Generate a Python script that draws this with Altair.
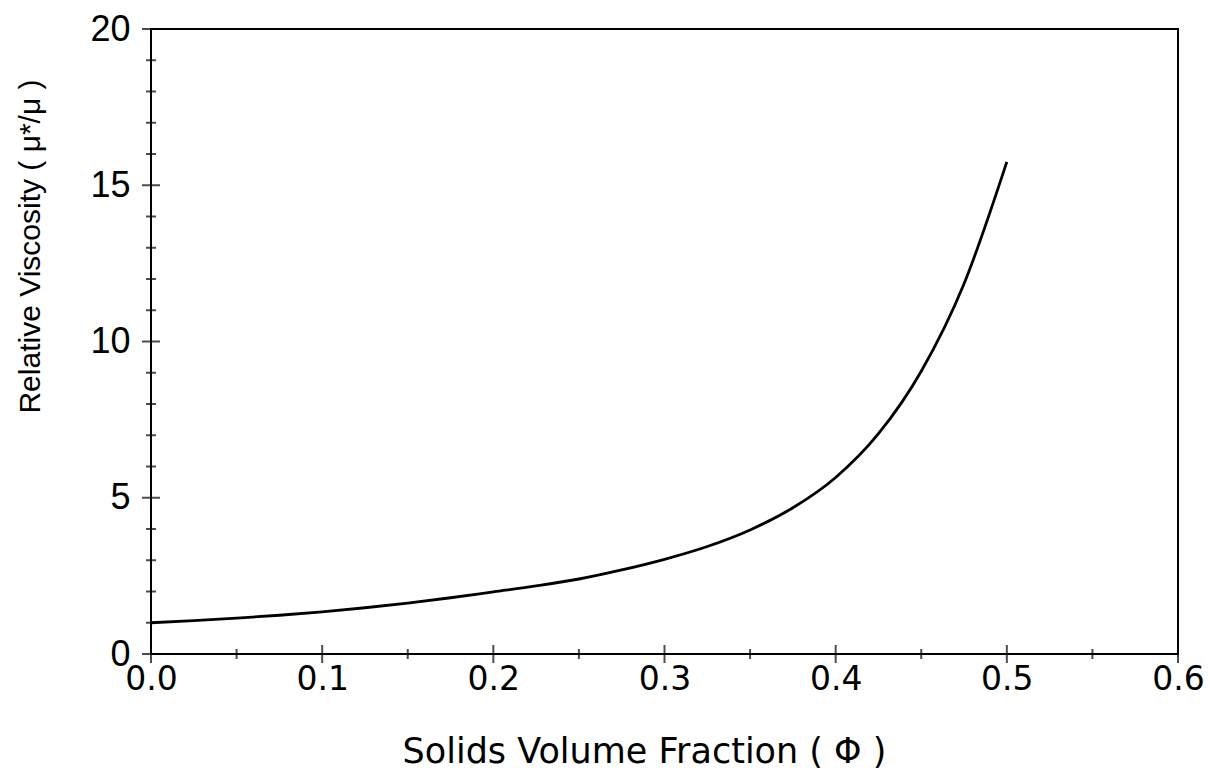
import altair as alt
import pandas as pd

# curve
phi = [0.0, 0.025, 0.05, 0.075, 0.1, 0.125, 0.15, 0.175, 0.2, 0.225, 0.25,
       0.275, 0.3, 0.325, 0.35, 0.375, 0.4, 0.425, 0.45, 0.475, 0.5]
visc = [1.00, 1.07, 1.15, 1.24, 1.35, 1.48, 1.63, 1.80, 1.99, 2.18, 2.40,
        2.69, 3.03, 3.44, 3.97, 4.68, 5.65, 7.05, 9.05, 11.85, 15.75]

x_major = [0.0, 0.1, 0.2, 0.3, 0.4, 0.5, 0.6]
x_minor = [0.05, 0.15, 0.25, 0.35, 0.45, 0.55]
y_major = [0, 5, 10, 15, 20]
y_minor = [v for v in range(1, 20) if v % 5 != 0]

curve = pd.DataFrame({"phi": phi, "visc": visc})

xs = alt.Scale(domain=[0, 0.6], nice=False, zero=False)
ys = alt.Scale(domain=[0, 20], nice=False, zero=False)

XFONT = "DejaVu Sans"
YFONT = "Liberation Sans"

line = alt.Chart(curve).mark_line(color="black", strokeWidth=2.8, interpolate="monotone").encode(
    x=alt.X("phi:Q", scale=xs,
            axis=alt.Axis(values=x_major, format=".1f", ticks=False, domain=False, grid=False,
                          labelFlush=False, labelOverlap=False,
                          labelFont=XFONT, labelFontSize=33, labelColor="black", labelPadding=9,
                          title="Solids Volume Fraction ( Φ )", titleFont=XFONT, titleFontSize=35,
                          titleFontWeight="normal", titleColor="black",
                          titleX=493, titleY=108, titleBaseline="alphabetic", titleAlign="center")),
    y=alt.Y("visc:Q", scale=ys,
            axis=alt.Axis(values=y_major, ticks=False, domain=False, grid=False,
                          labelFlush=False, labelOverlap=False,
                          labelFont=YFONT, labelFontSize=36, labelColor="black", labelPadding=21,
                          title="Relative Viscosity ( μ*/μ )", titleFont=YFONT, titleFontSize=30,
                          titleFontWeight="normal", titleColor="black",
                          titleX=-121, titleY=217, titleBaseline="middle", titleAlign="center",
                          titleAngle=270)),
)

def xticks(vals, size):
    return alt.Chart(pd.DataFrame({"t": vals})).mark_tick(
        orient="vertical", color="black", size=size, thickness=2).encode(
        x=alt.X("t:Q", scale=xs), y=alt.YDatum(0))

def yticks(vals, size):
    return alt.Chart(pd.DataFrame({"t": vals})).mark_tick(
        orient="horizontal", color="black", size=size, thickness=2).encode(
        y=alt.Y("t:Q", scale=ys), x=alt.XDatum(0))

chart = alt.layer(
    line,
    xticks(x_major, 18), xticks(x_minor, 10),
    yticks(y_major, 18), yticks(y_minor, 10),
).properties(
    width=1027, height=625,
    autosize=alt.AutoSizeParams(type="none"),
    padding={"left": 151, "top": 29, "right": 32, "bottom": 122},
    background="white",
).configure_view(stroke="black", strokeWidth=2)

chart.save("out.html", embed_options={"renderer": "svg", "actions": False})
